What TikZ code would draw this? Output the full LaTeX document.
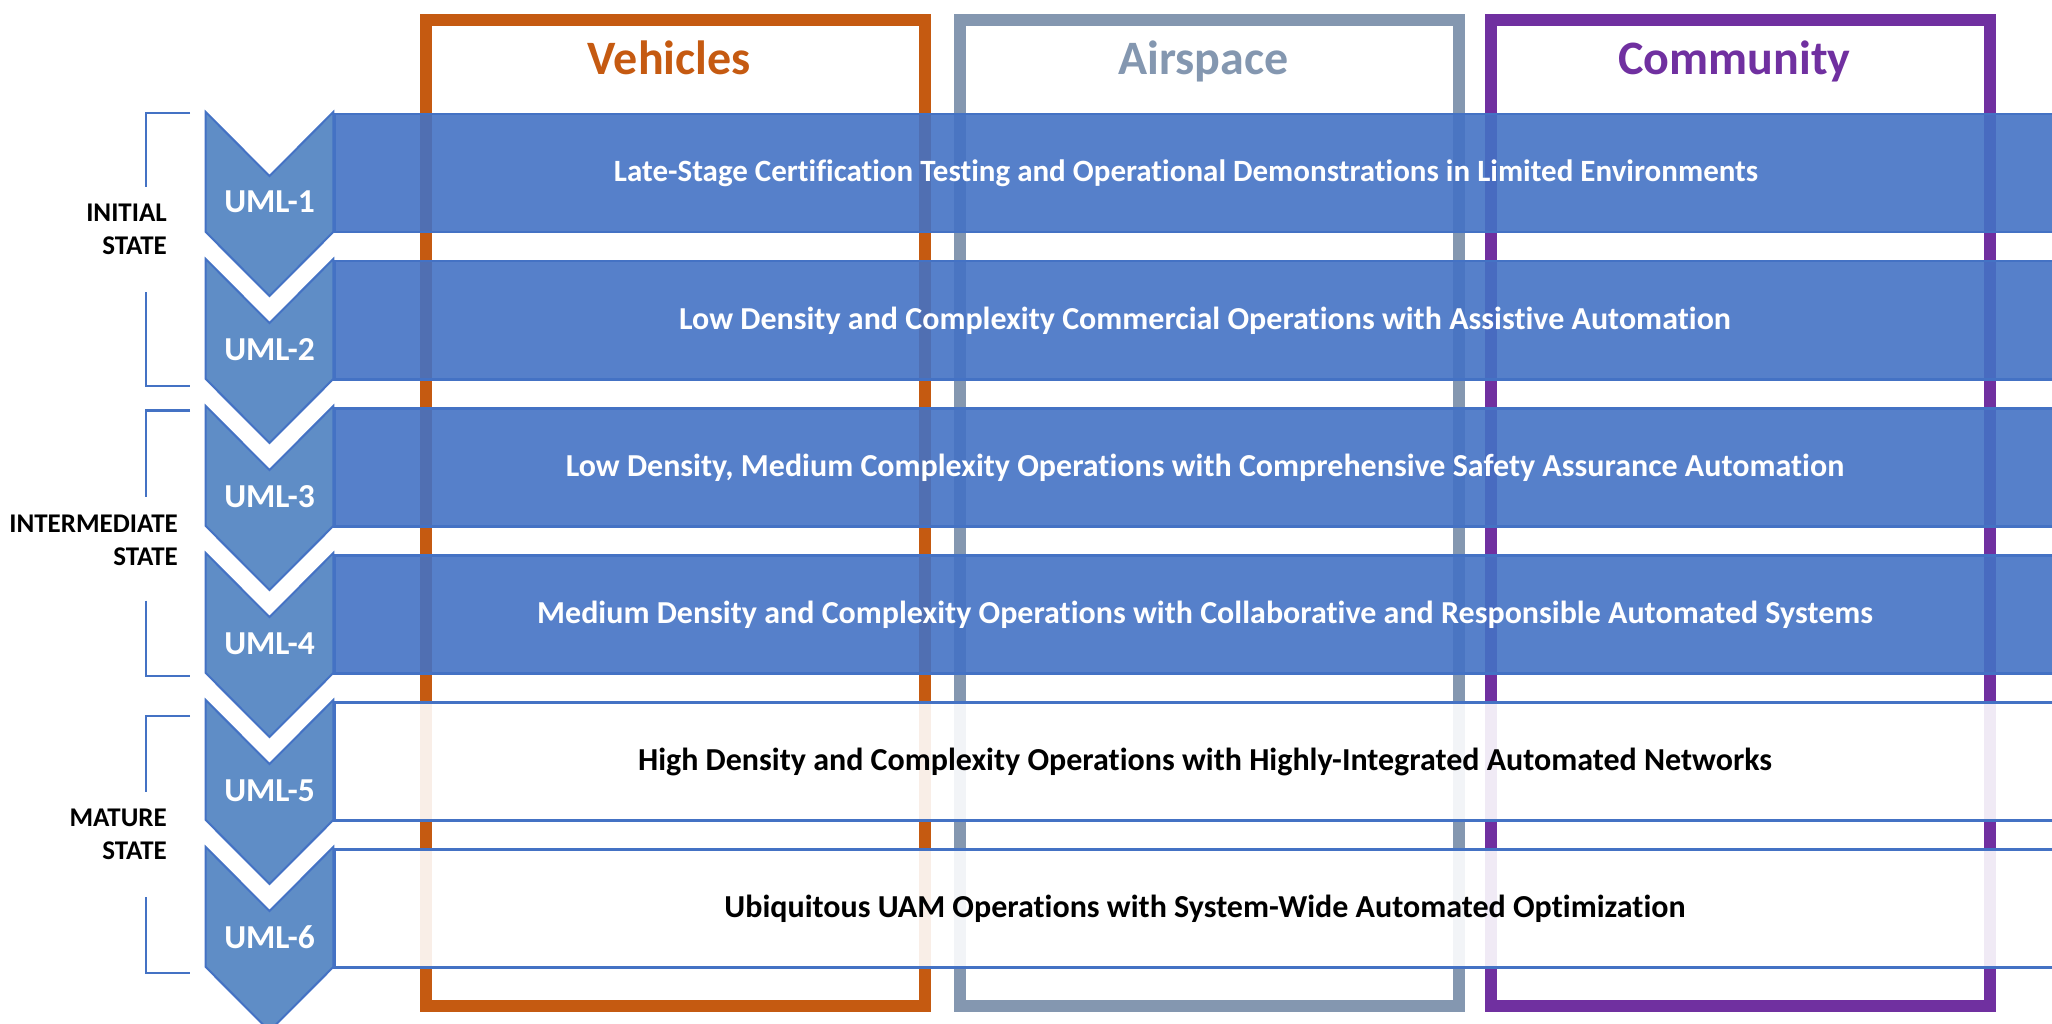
\documentclass[tikz,border=0pt]{standalone}
\usepackage{fontspec}
\setmainfont[Ligatures=NoCommon]{Carlito}
\definecolor{vehc}{HTML}{C55A11}
\definecolor{airc}{HTML}{8497B0}
\definecolor{comc}{HTML}{7030A0}
\definecolor{bandblue}{HTML}{4472C4}
\definecolor{chevblue}{HTML}{5F8DC6}
\begin{document}
\begin{tikzpicture}[x=1pt,y=-1pt,
  colframe/.style={draw, line width=12pt, rectangle, inner sep=0pt, anchor=north west, minimum height=986.3pt},
  header/.style={anchor=base, inner sep=0pt, font=\fontsize{48}{57}\selectfont\bfseries},
  bandbox/.style={draw=bandblue, line width=2.5pt, rectangle, inner sep=0pt, anchor=north west, minimum width=1744pt, minimum height=118pt, fill opacity=0.9},
  bluefill/.style={fill=bandblue},
  whitefill/.style={fill=white},
  bandtext/.style={anchor=base, inner sep=0pt, font=\fontsize{32}{38}\selectfont\bfseries},
  chev/.style={draw=bandblue, line width=2pt, fill=chevblue, line join=miter},
  umltext/.style={anchor=base, inner sep=0pt, text=white, font=\fontsize{33.5}{40}\selectfont\bfseries},
  bracket/.style={draw=bandblue, line width=2.5pt},
  stagetext/.style={anchor=east, inner sep=0pt, align=right, font=\fontsize{27}{33}\selectfont\bfseries}
]
\useasboundingbox (0,0) rectangle (2052,1024);
\clip (0,0) rectangle (2052,1024);

% column frames
\node[colframe, draw=vehc, minimum width=498.7pt] (vehframe) at (420,13.7) {};
\node[colframe, draw=airc, minimum width=499pt] (airframe) at (954,13.7) {};
\node[colframe, draw=comc, minimum width=498.7pt] (comframe) at (1485,13.7) {};
\node[header, text=vehc] (vehhead) at (669.35,75) {Vehicles};
\node[header, text=airc] (airhead) at (1203.5,75) {Airspace};
\node[header, text=comc] (comhead) at (1734.35,75) {Community};

% bands
\foreach \k/\sty in {1/bluefill,2/bluefill,3/bluefill,4/bluefill,5/whitefill,6/whitefill}{
  \node[bandbox, \sty] (band\k) at (333,{113+147*(\k-1)}) {};
}
\node[bandtext, text=white, font=\fontsize{31}{38}\selectfont\bfseries] (t1) at (1186,182) {Late-Stage Certification Testing and Operational Demonstrations in Limited Environments};
\node[bandtext, text=white] (t2) at (1205,329) {Low Density and Complexity Commercial Operations with Assistive Automation};
\node[bandtext, text=white] (t3) at (1205,476) {Low Density, Medium Complexity Operations with Comprehensive Safety Assurance Automation};
\node[bandtext, text=white] (t4) at (1205,623) {Medium Density and Complexity Operations with Collaborative and Responsible Automated Systems};
\node[bandtext, text=black] (t5) at (1205,770) {High Density and Complexity Operations with Highly-Integrated Automated Networks};
\node[bandtext, text=black] (t6) at (1205,917) {Ubiquitous UAM Operations with System-Wide Automated Optimization};

% chevrons
\foreach \k in {1,...,6}{
  \pgfmathsetmacro{\T}{112+147*(\k-1)}
  \draw[chev] (205.7,\T) -- (269.5,\T+64) -- (333.3,\T) -- (333.3,\T+120) -- (269.5,\T+184) -- (205.7,\T+120) -- cycle;
  \node[umltext] (uml\k) at (269.5,\T+101) {UML-\k};
}

% brackets
\draw[bracket] (190,113) -| (146,187);
\draw[bracket] (146,292) |- (190,386);
\draw[bracket] (190,410.7) -| (146,497);
\draw[bracket] (146,600.7) |- (190,676);
\draw[bracket] (190,716) -| (146,792);
\draw[bracket] (146,897) |- (190,973);

\node[stagetext] (initial) at (167,229) {INITIAL\\STATE};
\node[stagetext] (intermediate) at (178,540) {INTERMEDIATE\\STATE};
\node[stagetext] (mature) at (167,834) {MATURE\\STATE};
\end{tikzpicture}
\end{document}
